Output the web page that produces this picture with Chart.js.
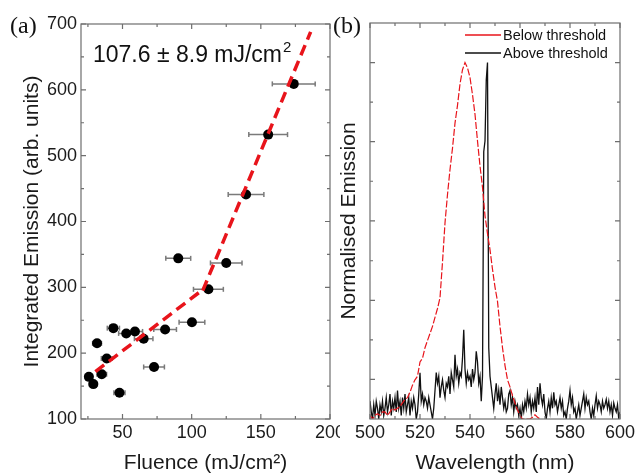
<!DOCTYPE html>
<html>
<head>
<meta charset="utf-8">
<script src="https://cdn.jsdelivr.net/npm/chart.js@4.4.0/dist/chart.umd.min.js"></script>
<style>
html, body { margin: 0; padding: 0; background: #fff; }
#wrap { position: relative; width: 635px; height: 476px; overflow: hidden; }
.pane { position: absolute; top: 0; height: 476px; }
</style>
</head>
<body>
<div id="wrap">
  <div class="pane" style="left:0;width:360px"><canvas id="chartA"></canvas></div>
  <div class="pane" style="left:330px;width:315px"><canvas id="chartB"></canvas></div>
</div>
<script>
// (a) integrated emission vs fluence
const fluence    = [25.7, 28.9, 31.6, 35.0, 38.6, 43.4, 47.8, 52.7, 59.0, 65.3, 72.8, 80.8, 90.3, 100.2, 112.1, 125.0, 139.3, 155.3, 173.8];
const emission   = [164, 153, 215, 168, 192, 238, 140, 230, 233, 222, 179, 236, 344, 247, 297, 337, 441, 532, 609];
const fluenceErr = [2.6, 2.9, 3.2, 3.5, 3.9, 4.4, 4.0, 5.5, 5.5, 6.7, 7.5, 8.2, 9.0, 9.3, 10.8, 11.4, 12.9, 14.0, 15.5];
const fitLowX  = [30.4, 109], fitLowY  = [172, 298];
const fitHighX = [108, 186],  fitHighY = [295, 688];
const xTicksA = [50, 100, 150, 200], xMinorA = [25, 75, 125, 175];
const yTicksA = [100, 200, 300, 400, 500, 600, 700], yMinorA = [150, 250, 350, 450, 550, 650];

// (b) spectra
const belowStart = 500, belowStep = 1;
const below = [
  0.01, 0.0, 0.01, 0.015, 0.01, 0.02, 0.02, 0.01, 0.02, 0.03,
  0.025, 0.03, 0.035, 0.045, 0.055, 0.06, 0.075, 0.095, 0.11, 0.12,
  0.16, 0.17, 0.2, 0.22, 0.24, 0.26, 0.285, 0.31, 0.34, 0.44,
  0.55, 0.63, 0.7, 0.76, 0.83, 0.88, 0.94, 0.98, 1.0, 0.985,
  0.958, 0.91, 0.855, 0.78, 0.71, 0.65, 0.57, 0.52, 0.475, 0.42,
  0.37, 0.33, 0.26, 0.2, 0.15, 0.11, 0.09, 0.065, 0.045, 0.025,
  0.01, 0.0, 0.0, 0.0, 0.0, 0.005, 0.012, 0.005, 0.0
];
const aboveStart = 500, aboveStep = 0.5;
const above = [
  0.05, 0.02, 0.0, 0.04, 0.01, 0.05, 0.03, 0.0, 0.04, 0.02,
  0.05, 0.01, 0.03, 0.06, 0.02, 0.04, 0.07, 0.01, 0.05, 0.03,
  0.06, 0.02, 0.08, 0.03, 0.05, 0.01, 0.06, 0.03, 0.07, 0.02,
  0.04, 0.06, 0.01, 0.05, 0.03, 0.06, 0.04, 0.0, 0.02, 0.07,
  0.13, 0.05, 0.07, 0.04, 0.06, 0.05, 0.03, 0.06, 0.04, 0.02,
  0.0, 0.03, 0.08, 0.13, 0.1, 0.12, 0.06, 0.09, 0.11, 0.08,
  0.06, 0.1, 0.09, 0.12, 0.07, 0.13, 0.11, 0.09, 0.18, 0.12,
  0.14, 0.1, 0.13, 0.12, 0.17, 0.25, 0.14, 0.1, 0.13, 0.11,
  0.12, 0.09, 0.14, 0.11, 0.13, 0.19, 0.16, 0.1, 0.12, 0.05,
  0.12, 0.75, 0.78, 0.95, 1.0, 0.2, 0.12, 0.09, 0.06, 0.03,
  0.07, 0.1, 0.05, 0.08, 0.04, 0.09, 0.06, 0.03, 0.05, 0.02,
  0.03, 0.07, 0.08, 0.04, 0.06, 0.02, 0.05, 0.03, 0.04, 0.01,
  0.03, 0.0, 0.04, 0.02, 0.05, 0.03, 0.07, 0.04, 0.06, 0.02,
  0.05, 0.03, 0.06, 0.02, 0.09, 0.04, 0.1, 0.06, 0.04, 0.07,
  0.02, 0.0, 0.03, 0.05, 0.02, 0.06, 0.03, 0.075, 0.04, 0.05,
  0.02, 0.04, 0.06, 0.03, 0.05, 0.01, 0.02, 0.0, 0.03, 0.05,
  0.08, 0.04, 0.06, 0.02, 0.03, 0.0, 0.02, 0.04, 0.01, 0.03,
  0.05, 0.07, 0.03, 0.06, 0.04, 0.05, 0.02, 0.0, 0.03, 0.01,
  0.04, 0.065, 0.03, 0.05, 0.04, 0.02, 0.05, 0.03, 0.04, 0.055,
  0.03, 0.05, 0.02, 0.04, 0.01, 0.045, 0.03, 0.02, 0.04, 0.0,
  0.02
];
const wlTicks = [500, 520, 540, 560, 580, 600], wlMinor = [510, 530, 550, 570, 590];
const normMajor = [0.111, 0.333, 0.556, 0.778, 1.0], normMinor = [0.222, 0.444, 0.667, 0.889];

const SANS = "'Liberation Sans', Arial, sans-serif";
const SERIF = "'Liberation Serif', 'Times New Roman', serif";
const AXIS = '#6e6e6e';

function fixTicks(list) {
  return s => { s.ticks = list.map(v => ({ value: v })); };
}

// box frame with inward ticks on all four sides
function frame(xMaj, xMin, yMaj, yMin) {
  return {
    id: 'frame',
    afterDatasetsDraw(chart) {
      const { ctx, chartArea: a, scales: { x, y } } = chart;
      ctx.save();
      ctx.strokeStyle = AXIS;
      ctx.lineWidth = 1.2;
      ctx.strokeRect(a.left, a.top, a.right - a.left, a.bottom - a.top);
      ctx.beginPath();
      const tx = (v, len) => {
        const p = x.getPixelForValue(v);
        ctx.moveTo(p, a.bottom); ctx.lineTo(p, a.bottom - len);
        ctx.moveTo(p, a.top); ctx.lineTo(p, a.top + len);
      };
      const ty = (v, len) => {
        const p = y.getPixelForValue(v);
        ctx.moveTo(a.left, p); ctx.lineTo(a.left + len, p);
        ctx.moveTo(a.right, p); ctx.lineTo(a.right - len, p);
      };
      xMaj.forEach(v => tx(v, 5)); xMin.forEach(v => tx(v, 3));
      yMaj.forEach(v => ty(v, 5)); yMin.forEach(v => ty(v, 3));
      ctx.stroke();
      ctx.restore();
    }
  };
}

// error bar segments, broken by null y between points
const errData = [];
fluence.forEach((f, i) => {
  errData.push({ x: f - fluenceErr[i], y: emission[i] });
  errData.push({ x: f + fluenceErr[i], y: emission[i] });
  errData.push({ x: f, y: null });
});

const noGrid = { display: false, drawTicks: false };

new Chart(document.getElementById('chartA'), {
  type: 'scatter',
  data: {
    datasets: [{
      label: 'fit low',
      data: fitLowX.map((v, i) => ({ x: v, y: fitLowY[i] })),
      showLine: true, borderColor: '#e8141b', borderWidth: 3.5, borderDash: [11, 6],
      pointRadius: 0
    }, {
      label: 'fit high',
      data: fitHighX.map((v, i) => ({ x: v, y: fitHighY[i] })),
      showLine: true, borderColor: '#e8141b', borderWidth: 3.5, borderDash: [11, 6],
      pointRadius: 0
    }, {
      label: 'data',
      data: fluence.map((v, i) => ({ x: v, y: emission[i] })),
      backgroundColor: '#000', borderWidth: 0, pointRadius: 5
    }, {
      label: 'error',
      data: errData,
      showLine: true, spanGaps: false, borderColor: '#7a7a7a', borderWidth: 1.5,
      pointStyle: 'line', rotation: 90, pointRadius: 2.5, pointBorderColor: '#7a7a7a', pointBorderWidth: 1.5
    }]
  },
  options: {
    responsive: true, maintainAspectRatio: false, animation: false,
    layout: { padding: { top: 24, right: 30, bottom: 0, left: 0 } },
    plugins: { legend: { display: false }, tooltip: { enabled: false } },
    scales: {
      x: {
        type: 'linear', min: 20, max: 200,
        afterBuildTicks: fixTicks(xTicksA),
        afterFit: s => { s.height = 57; },
        grid: noGrid, border: { display: false },
        ticks: { font: { family: SANS, size: 18 }, color: '#1a1a1a', padding: 3 },
        title: { display: true, text: 'Fluence (mJ/cm²)', font: { family: SANS, size: 21 }, color: '#1a1a1a', padding: { top: 0, bottom: 0 } }
      },
      y: {
        type: 'linear', min: 100, max: 700,
        afterBuildTicks: fixTicks(yTicksA),
        afterFit: s => { s.width = 81; },
        grid: noGrid, border: { display: false },
        ticks: { font: { family: SANS, size: 18 }, color: '#1a1a1a', padding: 4 },
        title: { display: true, text: 'Integrated Emission (arb. units)', font: { family: SANS, size: 21 }, color: '#1a1a1a', padding: { top: 20, bottom: 0 } }
      }
    }
  },
  plugins: [frame(xTicksA, xMinorA, yTicksA, yMinorA), {
    id: 'notes',
    afterDraw(chart) {
      const ctx = chart.ctx;
      ctx.save();
      ctx.fillStyle = '#111';
      ctx.textBaseline = 'alphabetic';
      ctx.font = '24px ' + SERIF;
      ctx.fillText('(a)', 10, 33);
      ctx.font = '23px ' + SANS;
      const t = '107.6 ± 8.9 mJ/cm';
      ctx.fillText(t, 93, 62);
      const w = ctx.measureText(t).width;
      ctx.font = '15px ' + SANS;
      ctx.fillText('2', 93 + w + 1, 52);
      ctx.restore();
    }
  }]
});

new Chart(document.getElementById('chartB'), {
  type: 'line',
  data: {
    datasets: [{
      label: 'Below threshold',
      data: below.map((v, i) => ({ x: belowStart + i * belowStep, y: v })),
      borderColor: '#e8141b', borderWidth: 1.2, borderDash: [7, 2], pointRadius: 0, tension: 0
    }, {
      label: 'Above threshold',
      data: above.map((v, i) => ({ x: aboveStart + i * aboveStep, y: v })),
      borderColor: '#111', borderWidth: 1.3, pointRadius: 0, tension: 0
    }]
  },
  options: {
    responsive: true, maintainAspectRatio: false, animation: false,
    layout: { padding: { top: 23, right: 25, bottom: 0, left: 0 } },
    plugins: { legend: { display: false }, tooltip: { enabled: false } },
    scales: {
      x: {
        type: 'linear', min: 500, max: 600,
        afterBuildTicks: fixTicks(wlTicks),
        afterFit: s => { s.height = 57; },
        grid: noGrid, border: { display: false },
        ticks: { font: { family: SANS, size: 18 }, color: '#1a1a1a', padding: 3 },
        title: { display: true, text: 'Wavelength (nm)', font: { family: SANS, size: 21 }, color: '#1a1a1a', padding: { top: 0, bottom: 0 } }
      },
      y: {
        type: 'linear', min: 0, max: 1.111,
        afterFit: s => { s.width = 40; },
        grid: noGrid, border: { display: false },
        ticks: { display: false },
        title: { display: true, text: 'Normalised Emission', font: { family: SANS, size: 21 }, color: '#1a1a1a', padding: { top: 7, bottom: 0 } }
      }
    }
  },
  plugins: [{
    id: 'paper',
    beforeDraw(chart) {
      const ctx = chart.ctx;
      ctx.save();
      ctx.fillStyle = '#fff';
      ctx.fillRect(10, 0, chart.width - 10, chart.height);
      ctx.restore();
    }
  }, frame(wlTicks, wlMinor, normMajor, normMinor), {
    id: 'notes',
    afterDraw(chart) {
      const ctx = chart.ctx;
      ctx.save();
      ctx.fillStyle = '#111';
      ctx.textBaseline = 'alphabetic';
      ctx.font = '24px ' + SERIF;
      ctx.fillText('(b)', 3, 33);
      // legend
      ctx.textBaseline = 'middle';
      ctx.font = '14.5px ' + SANS;
      chart.data.datasets.forEach((ds, i) => {
        const yy = 35 + i * 18;
        ctx.strokeStyle = ds.borderColor;
        ctx.lineWidth = 1.3;
        ctx.beginPath();
        ctx.moveTo(135, yy); ctx.lineTo(171, yy);
        ctx.stroke();
        ctx.fillText(ds.label, 173, yy + 1);
      });
      ctx.restore();
    }
  }]
});
</script>
</body>
</html>
